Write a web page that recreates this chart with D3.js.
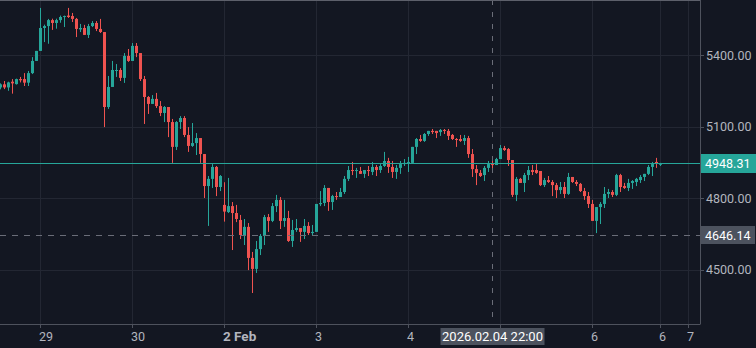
<!DOCTYPE html>
<html>
<head>
<meta charset="utf-8">
<script src="https://cdn.jsdelivr.net/npm/d3@7/dist/d3.min.js"></script>
<style>
  html, body { margin: 0; padding: 0; background: #131722; }
  svg { display: block; }
  text { font-family: Roboto, "Noto Sans", sans-serif; }
</style>
</head>
<body>
<svg id="chart" width="756" height="348"></svg>
<script>
// Hourly OHLC bars, 28 Jan – 6 Feb 2026 (one entry per bar, in order)
const opens = [
  5265,5278,5265,5289,5279,5300,5300,5285,5325,5376,
  5418,5514,5522,5547,5535,5547,5561,5566,5564,5552,5508,5514,5485,5522,5535,5510,5497,5183,5267,5334,5338,5305,5397,
  5376,5439,5409,5300,5225,5196,5217,5187,5158,5183,5120,5016,5120,5137,5066,5020,5032,5053,4986,4852,4882,4932,4848,
  4773,4743,4768,4739,4710,4647,4681,4551,4505,4588,4643,4722,4706,4768,4794,4706,4718,4622,4668,4676,4660,4685,4655,
  4660,4776,4781,4844,4785,4810,4806,4827,4882,4919,4915,4915,4903,4919,4911,4932,4919,4936,4957,4932,4911,4928,4944,
  4949,4949,5016,5049,5041,5070,5083,5083,5078,5087,5083,5066,5049,5049,5041,5053,4986,4923,4907,4898,4928,4944,4940,
  4965,5011,5007,4961,4815,4882,4865,4898,4919,4919,4915,4856,4877,4869,4856,4835,4848,4819,4890,4869,4861,4831,4810,
  4777,4706,4764,4777,4819,4827,4815,4898,4852,4844,4865,4869,4877,4890,4903,4932,4953,4941
];
const highs = [
  5282,5292,5289,5300,5302,5309,5325,5334,5392,5418,
  5598,5528,5552,5553,5553,5566,5566,5598,5577,5556,5531,5527,5531,5543,5543,5552,5497,5313,5376,5363,5346,5409,5426,
  5451,5451,5409,5313,5229,5233,5242,5208,5187,5183,5133,5124,5145,5145,5099,5116,5074,5053,4986,4894,4944,4936,4898,
  4868,4886,4785,4773,4731,4714,4697,4576,4622,4651,4731,4735,4781,4815,4806,4794,4748,4710,4714,4676,4714,4701,4689,
  4777,4831,4856,4844,4815,4827,4844,4894,4936,4953,4928,4932,4919,4936,4953,4940,4944,4995,4970,4957,4940,4957,4965,
  4974,5016,5053,5066,5074,5083,5091,5083,5091,5091,5091,5070,5053,5066,5066,5062,5007,4940,4919,4936,4957,4957,4970,
  5024,5020,5011,4961,4890,4886,4907,4936,4940,4944,4915,4886,4894,4877,4865,4869,4869,4907,4890,4877,4865,4844,4827,
  4794,4764,4785,4848,4840,4835,4903,4903,4865,4882,4877,4886,4898,4903,4940,4953,4970,4949
];
const lows = [
  5257,5258,5251,5239,5277,5286,5271,5271,5321,5376,
  5418,5455,5448,5506,5511,5536,5518,5556,5539,5476,5497,5485,5472,5518,5501,5493,5099,5175,5267,5309,5292,5284,5372,
  5376,5392,5292,5112,5154,5196,5179,5145,5120,5057,4949,5003,5091,5057,4995,5016,4982,4949,4802,4685,4844,4810,4831,
  4703,4739,4584,4701,4630,4605,4500,4404,4488,4563,4605,4660,4701,4743,4672,4681,4618,4597,4660,4618,4630,4647,4643,
  4660,4768,4768,4748,4752,4794,4810,4819,4873,4898,4886,4903,4886,4894,4898,4894,4907,4932,4907,4886,4882,4903,4936,
  4911,4949,4986,5037,5037,5062,5070,5053,5062,5070,5045,5045,5016,5037,5024,4970,4890,4856,4890,4873,4911,4915,4940,
  4965,4999,4936,4806,4789,4865,4827,4877,4898,4903,4852,4848,4865,4810,4802,4819,4802,4815,4865,4852,4827,4794,4760,
  4706,4655,4693,4760,4802,4806,4810,4827,4840,4831,4840,4852,4865,4873,4898,4894,4928,4936
];
const closes = [
  5278,5265,5286,5282,5300,5295,5285,5325,5376,5418,
  5514,5522,5547,5535,5547,5560,5564,5560,5552,5510,5514,5485,5522,5535,5510,5497,5183,5267,5338,5338,5305,5397,5376,
  5439,5409,5300,5225,5196,5217,5187,5158,5183,5120,5016,5120,5137,5066,5020,5032,5053,4986,4852,4882,4932,4848,4894,
  4745,4768,4739,4714,4647,4681,4551,4505,4588,4643,4722,4706,4768,4794,4706,4718,4622,4668,4676,4660,4685,4655,4660,
  4777,4781,4844,4785,4810,4806,4827,4882,4919,4915,4919,4903,4919,4915,4932,4919,4936,4957,4932,4911,4928,4944,4949,
  4953,5016,5049,5041,5070,5083,5078,5074,5087,5083,5062,5049,5045,5041,5053,4986,4923,4907,4894,4928,4944,4940,4965,
  5011,5003,4961,4815,4882,4865,4898,4919,4911,4907,4856,4877,4869,4856,4835,4848,4819,4890,4869,4861,4831,4810,4777,
  4706,4764,4777,4819,4827,4815,4898,4848,4844,4865,4873,4882,4890,4903,4932,4944,4946,4948.31
];

// Time axis: grid lines at day boundaries; labels (the day-5 label sits under the crosshair tag)
const timeGridBars   = [10, 33, 56, 79, 102, 125, 148, 165, 172];
const timeTickBars   = [10, 33, 56, 79, 102, 148, 165, 172];
const timeTickLabels = ["29", "30", "2 Feb", "3", "4", "6", "6", "7"];
const monthLabel = "2 Feb";

// Price axis
const priceTicks = [4500, 4800, 5100, 5400];

// Last price and crosshair readout
const lastPrice = 4948.31;
const crossBar = 123;
const crossPrice = 4646.14;
const crossTimeLabel = "2026.02.04 22:00";

const W = 756, H = 348;
const plotW = 700, plotH = 324;
const upColor = "#26a69a", downColor = "#ef5350";
const gridColor = "#232733", borderColor = "#4e525d", textColor = "#b2b5be";

const svg = d3.select("#chart");
svg.append("rect").attr("width", W).attr("height", H).attr("fill", "#131722");

const x = d3.scaleLinear().domain([0, 172]).range([0.33, 688.33]);
const y = d3.scaleLinear().domain([4274.2, 5631.2]).range([plotH, 0]);

const bars = opens.map((o, i) => ({ i, o, h: highs[i], l: lows[i], c: closes[i] }));

// grid
const grid = svg.append("g");
grid.selectAll("line.h").data(priceTicks).join("line")
  .attr("x1", 0).attr("x2", plotW)
  .attr("y1", d => Math.round(y(d)) + 0.5).attr("y2", d => Math.round(y(d)) + 0.5)
  .attr("stroke", gridColor).attr("stroke-width", 1);
grid.selectAll("line.v").data(timeGridBars).join("line")
  .attr("x1", d => Math.floor(x(d)) + 0.5).attr("x2", d => Math.floor(x(d)) + 0.5)
  .attr("y1", 0).attr("y2", plotH)
  .attr("stroke", gridColor).attr("stroke-width", 1);

// candles
const candles = svg.append("g");
candles.selectAll("rect.wick").data(bars).join("rect")
  .attr("x", d => Math.floor(x(d.i)))
  .attr("width", 1)
  .attr("y", d => y(d.h))
  .attr("height", d => Math.max(1, y(d.l) - y(d.h)))
  .attr("fill", d => d.c >= d.o ? upColor : downColor);
candles.selectAll("rect.body").data(bars).join("rect")
  .attr("x", d => Math.floor(x(d.i)) - 1)
  .attr("width", 3)
  .attr("y", d => y(Math.max(d.o, d.c)))
  .attr("height", d => Math.max(1, Math.abs(y(d.o) - y(d.c))))
  .attr("fill", d => d.c >= d.o ? upColor : downColor);

// last price line
svg.append("line")
  .attr("x1", 0).attr("x2", plotW)
  .attr("y1", Math.round(y(lastPrice)) + 0.5).attr("y2", Math.round(y(lastPrice)) + 0.5)
  .attr("stroke", upColor).attr("stroke-width", 1);

// crosshair
svg.append("line")
  .attr("x1", 0).attr("x2", plotW)
  .attr("y1", Math.round(y(crossPrice)) + 0.5).attr("y2", Math.round(y(crossPrice)) + 0.5)
  .attr("stroke", "#6a6d78").attr("stroke-width", 1).attr("stroke-dasharray", "6,6");
svg.append("line")
  .attr("x1", Math.round(x(crossBar)) + 0.5).attr("x2", Math.round(x(crossBar)) + 0.5)
  .attr("y1", 0).attr("y2", plotH)
  .attr("stroke", "#6a6d78").attr("stroke-width", 1).attr("stroke-dasharray", "5,7");

// frame
svg.append("line").attr("x1", 0).attr("x2", plotW).attr("y1", 0.5).attr("y2", 0.5)
  .attr("stroke", "#5d606b");
svg.append("line").attr("x1", plotW + 0.5).attr("x2", plotW + 0.5).attr("y1", 0).attr("y2", plotH + 0.5)
  .attr("stroke", borderColor);
svg.append("line").attr("x1", 0).attr("x2", plotW).attr("y1", plotH + 0.5).attr("y2", plotH + 0.5)
  .attr("stroke", borderColor);

// price axis
const pAxis = svg.append("g");
pAxis.selectAll("line").data(priceTicks).join("line")
  .attr("x1", plotW).attr("x2", plotW + 4)
  .attr("y1", d => Math.round(y(d)) + 0.5).attr("y2", d => Math.round(y(d)) + 0.5)
  .attr("stroke", borderColor);
pAxis.selectAll("text").data(priceTicks).join("text")
  .attr("x", 706).attr("y", d => y(d))
  .attr("dy", "0.35em")
  .attr("font-size", 12.5).attr("fill", textColor)
  .text(d => d3.format(".2f")(d));

// time axis
const tAxis = svg.append("g");
tAxis.selectAll("line").data(timeGridBars).join("line")
  .attr("x1", d => Math.floor(x(d)) + 0.5).attr("x2", d => Math.floor(x(d)) + 0.5)
  .attr("y1", plotH).attr("y2", plotH + 4)
  .attr("stroke", borderColor);
tAxis.selectAll("text").data(timeTickBars).join("text")
  .attr("x", d => Math.floor(x(d)) - 1)
  .attr("y", 341)
  .attr("font-size", (d, i) => timeTickLabels[i] === monthLabel ? 13.5 : 12.5)
  .attr("font-weight", (d, i) => timeTickLabels[i] === monthLabel ? 700 : 400)
  .attr("fill", textColor)
  .text((d, i) => timeTickLabels[i]);

// last price tag
const ly = Math.round(y(lastPrice));
svg.append("rect").attr("x", plotW + 1).attr("y", ly - 9).attr("width", W - plotW - 1).attr("height", 19)
  .attr("fill", upColor);
svg.append("text").attr("x", 705).attr("y", ly + 0.5).attr("dy", "0.35em")
  .attr("font-size", 12.5).attr("fill", "#ffffff").text(d3.format(".2f")(lastPrice));

// crosshair price tag
const cy = Math.round(y(crossPrice));
svg.append("rect").attr("x", plotW + 1).attr("y", cy - 9).attr("width", 54).attr("height", 18)
  .attr("fill", "#4c525e");
svg.append("text").attr("x", 705).attr("y", cy + 0.5).attr("dy", "0.35em")
  .attr("font-size", 12.5).attr("fill", "#ffffff").text(d3.format(".2f")(crossPrice));

// crosshair time tag
const cx = Math.round(x(crossBar)) + 0.5;
svg.append("rect").attr("x", cx - 52).attr("y", 328).attr("width", 104).attr("height", 17)
  .attr("fill", "#4c525e");
svg.append("text").attr("x", cx).attr("y", 336.5).attr("dy", "0.35em")
  .attr("text-anchor", "middle")
  .attr("font-size", 13).attr("fill", "#ffffff").text(crossTimeLabel);
</script>
</body>
</html>
